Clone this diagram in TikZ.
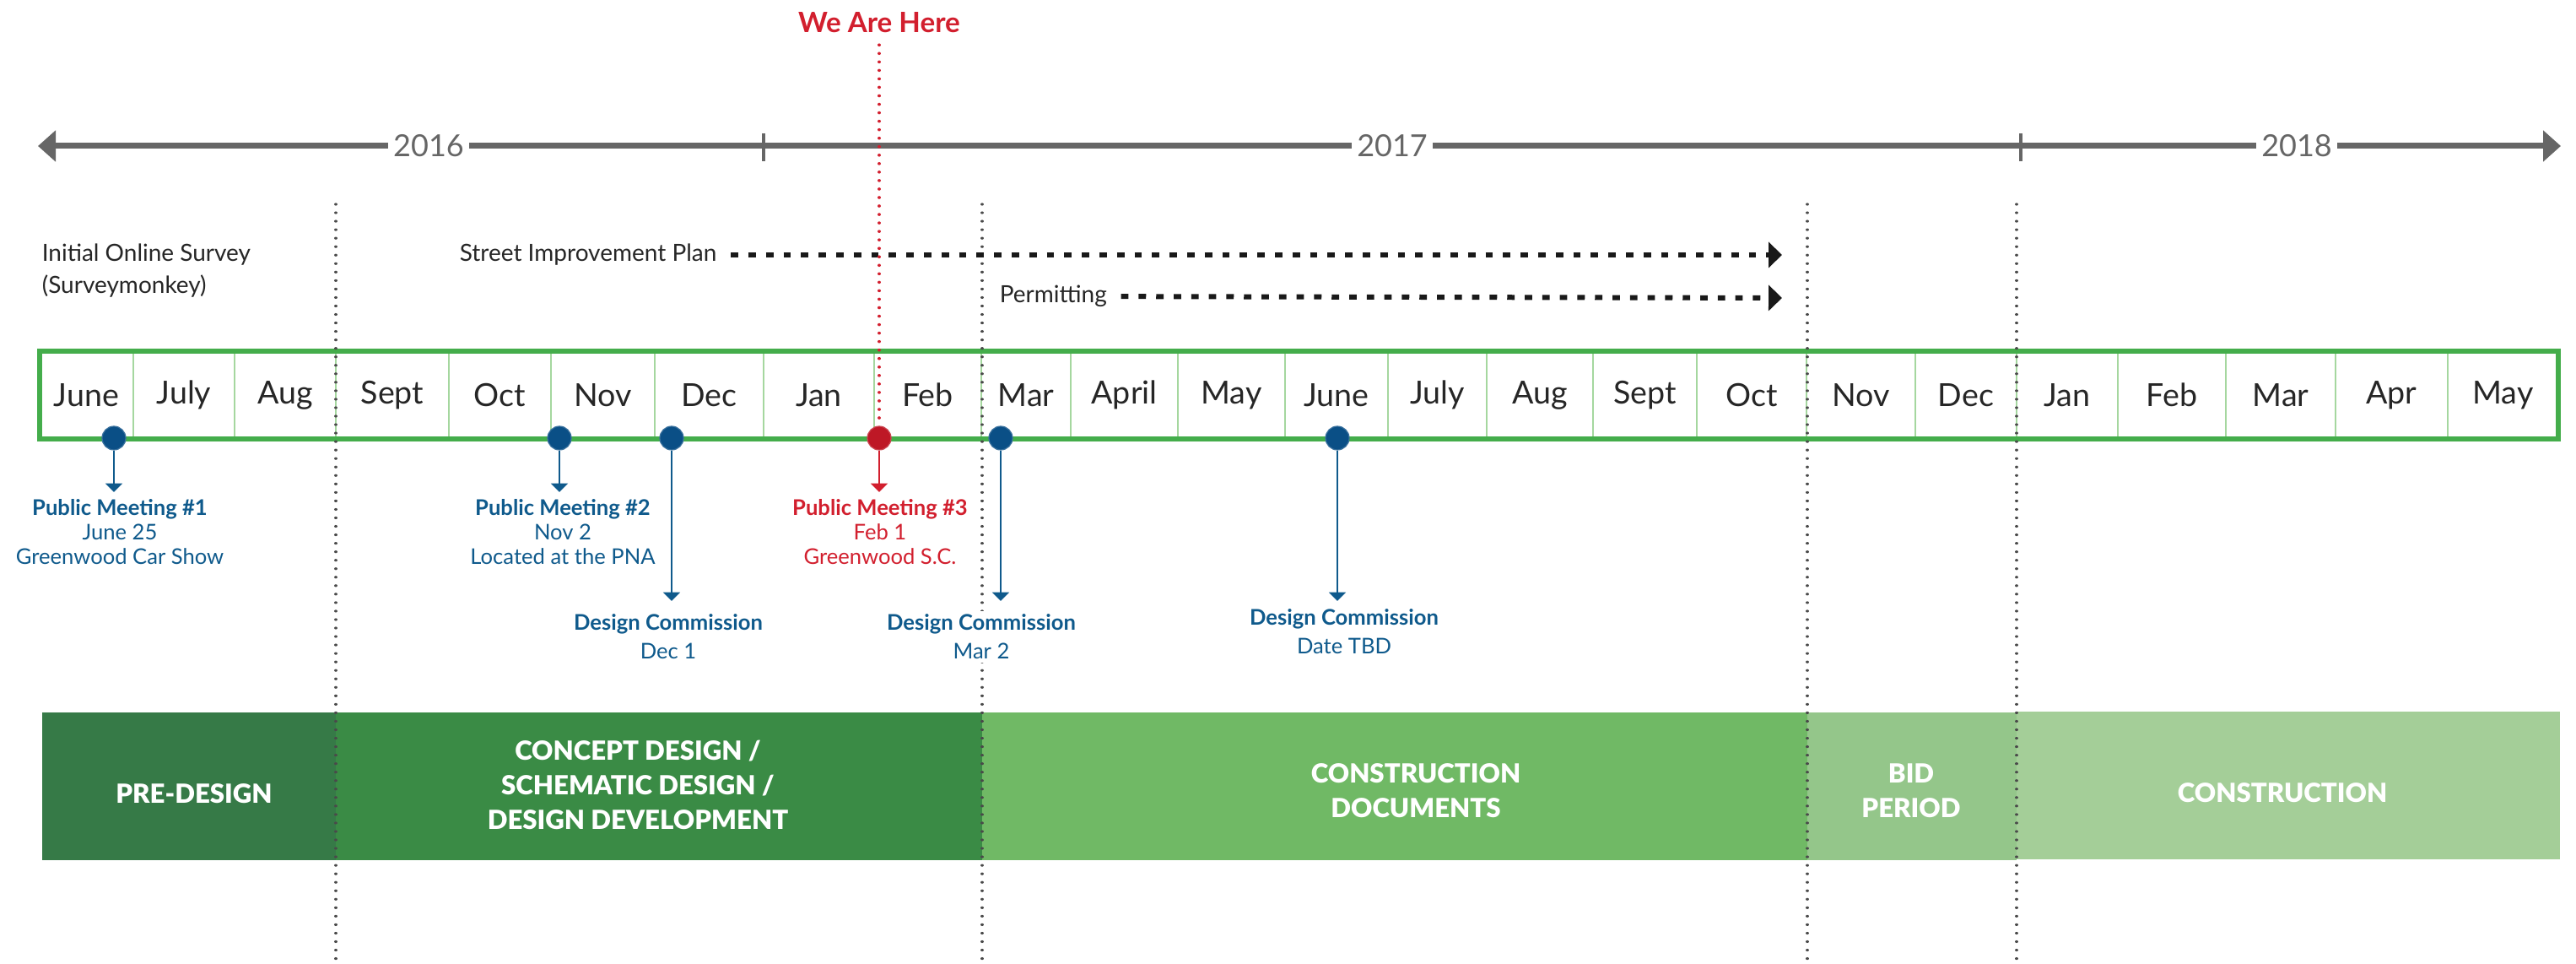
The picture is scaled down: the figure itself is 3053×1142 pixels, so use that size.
\documentclass[tikz,border=0pt]{standalone}
\usepackage{fontspec}
\setmainfont{Lato}
\newfontfamily\heavyfont{Lato Black}
\usetikzlibrary{arrows.meta}
\definecolor{axisgray}{HTML}{666666}
\definecolor{bargreen}{HTML}{44AD4B}
\definecolor{divgreen}{HTML}{A5D79F}
\definecolor{sepgray}{HTML}{4A4A4A}
\definecolor{evblue}{HTML}{0F5A8C}
\definecolor{dotblue}{HTML}{0A4F86}
\definecolor{evred}{HTML}{D21F2E}
\definecolor{dotred}{HTML}{BE1826}
\definecolor{phpre}{HTML}{367A47}
\definecolor{phconcept}{HTML}{3A8B45}
\definecolor{phdocs}{HTML}{70B965}
\definecolor{phbid}{HTML}{94C68A}
\definecolor{phbuild}{HTML}{A4CE98}

\begin{document}
\begin{tikzpicture}[x=0.25pt,y=-0.25pt,
  month/.style={font=\fontsize{9.4}{10}\selectfont,text=black!85},
  divider/.style={divgreen,line width=0.5pt},
  year/.style={fill=white,text=axisgray,font=\fontsize{9}{9}\selectfont,inner xsep=1.5pt,inner ysep=0pt},
  sep/.style={sepgray,line width=0.8pt,dash pattern=on 0.01pt off 2.5pt,line cap=round},
  note/.style={text=black!85,font=\fontsize{7}{9.5}\selectfont,inner sep=0pt},
  plan/.style={black!90,line width=1.5pt,dash pattern=on 2.2pt off 3pt,shorten <=4pt,-{Triangle[length=4pt,width=7.5pt]}},
  evdot/.style={circle,fill=dotblue,draw=dotblue!80!white,line width=0.3pt,minimum size=7pt,inner sep=0pt},
  evline/.style={evblue,line width=0.5pt,-{Triangle[length=2.6pt,width=5pt]}},
  evtext/.style={text=evblue,fill=white,align=center,font=\fontsize{6.4}{7.25}\selectfont,inner sep=0pt},
  phasetext/.style={text=white,align=center,font=\heavyfont\fontsize{7.8}{10.25}\selectfont}]
\useasboundingbox (0,0) rectangle (3053,1142);

\fill[phpre] (50,844) rectangle (398,1019);
\fill[phconcept] (398,844) rectangle (1164,1019);
\fill[phdocs] (1164,844) rectangle (2142,1019);
\fill[phbid] (2142,844) rectangle (2390,1019);
\fill[phbuild] (2390,843) rectangle (3034,1018);
\node[phasetext] (pre) at (230,940) {PRE-DESIGN};
\node[phasetext] (concept) at (756,930) {CONCEPT DESIGN /\\SCHEMATIC DESIGN /\\DESIGN DEVELOPMENT};
\node[phasetext] (docs) at (1678,937) {CONSTRUCTION\\DOCUMENTS};
\node[phasetext] (bid) at (2265,937) {BID\\PERIOD};
\node[phasetext] (build) at (2705,939) {CONSTRUCTION};

\foreach \a/\b/\m [count=\i] in {47/158/June,158/278/July,278/398/Aug,398/532/Sept,
  532/653/Oct,653/776/Nov,776/905/Dec,905/1036/Jan,1036/1163/Feb,1163/1269/Mar,
  1269/1396/April,1396/1523/May,1523/1645/June,1645/1762/July,1762/1888/Aug,
  1888/2011/Sept,2011/2141/Oct,2141/2270/Nov,2270/2390/Dec,2390/2510/Jan,
  2510/2638/Feb,2638/2768/Mar,2768/2901/Apr,2901/3032/May}{
  \node[month] (m\i) at ({(\a+\b)/2},468) {\m};
  \draw[divider] (\b,416) -- (\b,520);
}
\draw[bargreen,line width=1.5pt] (47,416) rectangle (3032,520);

\draw[axisgray,line width=1.75pt,{Triangle[length=5.25pt,width=9pt]}-{Triangle[length=5.25pt,width=9pt]}] (45,173) -- (3035,173);
\draw[axisgray,line width=1pt] (905,158) -- (905,191);
\draw[axisgray,line width=1pt] (2395,158) -- (2395,191);
\node[year] (y2016) at (508,173) {2016};
\node[year] (y2017) at (1650,173) {2017};
\node[year] (y2018) at (2722,173) {2018};

\foreach \x in {398,1164,2142,2390}
  \draw[sep] (\x,242) -- (\x,1142);

\node[note,anchor=west,align=left] (survey) at (49,321) {Initial Online Survey\\(Surveymonkey)};
\node[note,anchor=west] (streets) at (544,302) {Street Improvement Plan};
\node[note,anchor=west] (permits) at (1184,351) {Permitting};
\coordinate (streetsend) at (2112,302);
\coordinate (permitsend) at (2112,353);
\draw[plan] (streets) -- (streetsend);
\draw[plan] (permits) -- (permitsend);

\node[evdot] (pm1) at (135,519) {};
\node[evdot] (pm2) at (663,519) {};
\node[evdot] (dc1) at (796,519) {};
\node[evdot,fill=dotred,draw=dotred!80!white] (pm3) at (1042,519) {};
\node[evdot] (dc2) at (1186,519) {};
\node[evdot] (dc3) at (1585,519) {};

\node[text=evred,font=\bfseries\fontsize{8.3}{9}\selectfont] (here) at (1042,27) {We Are Here};
\draw[sep,evred,line width=0.9pt] (here) -- (pm3);

\coordinate (pm1end) at (135,583);
\coordinate (pm2end) at (663,583);
\coordinate (dc1end) at (796,712);
\coordinate (pm3end) at (1042,583);
\coordinate (dc2end) at (1186,712);
\coordinate (dc3end) at (1585,712);
\path (pm1) edge[evline] (pm1end)
      (pm2) edge[evline] (pm2end)
      (dc1) edge[evline] (dc1end)
      (pm3) edge[evline,evred] (pm3end)
      (dc2) edge[evline] (dc2end)
      (dc3) edge[evline] (dc3end);

\node[evtext,anchor=north] (pm1txt) at (142,591) {\textbf{Public Meeting \#1}\\June 25\\Greenwood Car Show};
\node[evtext,anchor=north] (pm2txt) at (667,591) {\textbf{Public Meeting \#2}\\Nov 2\\Located at the PNA};
\node[evtext,anchor=north,text=evred] (pm3txt) at (1043,591) {\textbf{Public Meeting \#3}\\Feb 1\\Greenwood S.C.};
\node[evtext,anchor=north,inner sep=1pt] (dc1txt) at (792,723) {\textbf{Design Commission}\\[1.25pt]Dec 1};
\node[evtext,anchor=north,inner sep=1pt] (dc2txt) at (1163,723) {\textbf{Design Commission}\\[1.25pt]Mar 2};
\node[evtext,anchor=north,inner sep=1pt] (dc3txt) at (1593,717) {\textbf{Design Commission}\\[1.25pt]Date TBD};
\end{tikzpicture}
\end{document}
